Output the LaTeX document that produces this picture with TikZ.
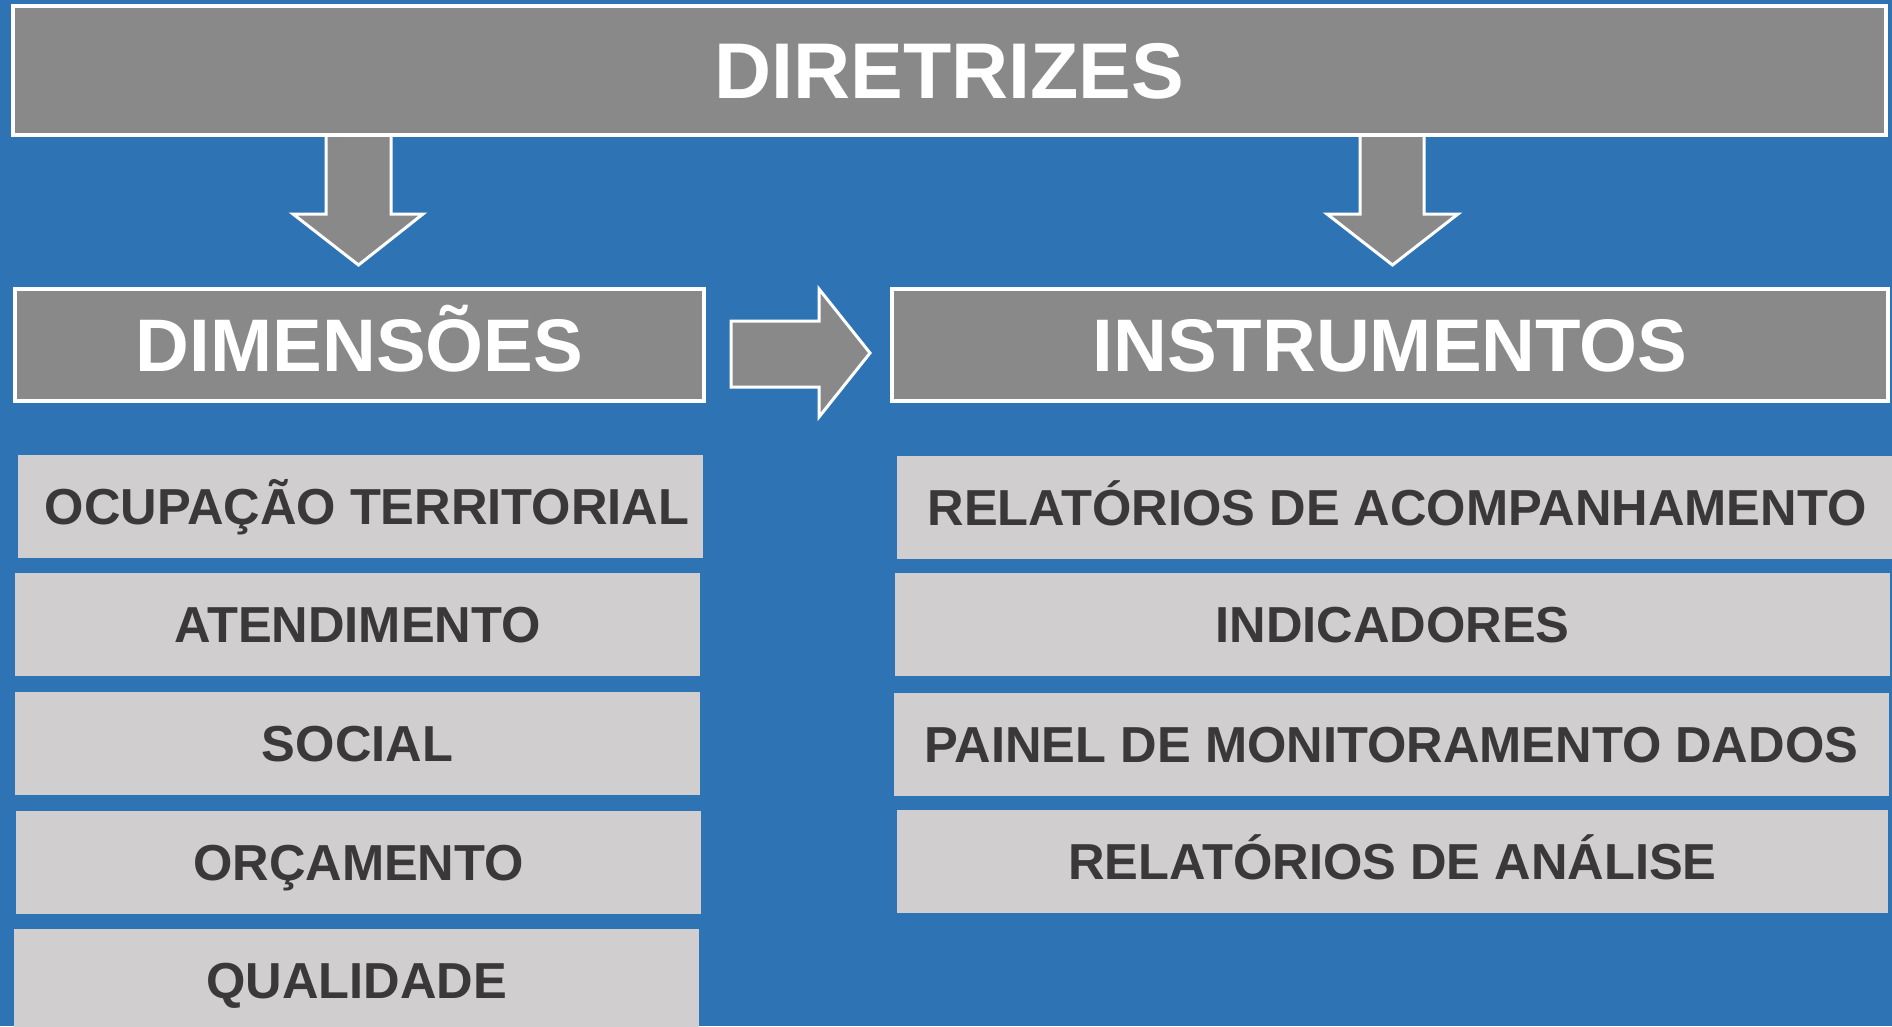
\documentclass[tikz,border=0pt]{standalone}
\usepackage{fontspec}
\setmainfont{Liberation Sans}
\definecolor{bgblue}{HTML}{2E74B5}
\definecolor{boxgray}{HTML}{898989}
\definecolor{lightbox}{HTML}{D0CECF}
\definecolor{darktext}{HTML}{3A3838}
\begin{document}
\begin{tikzpicture}[x=1pt,y=-1pt,
  hdr/.style={draw=white, line width=4pt, fill=boxgray, text=white, inner sep=0pt, text depth=0pt, anchor=center},
  bigfont/.style={font=\bfseries\fontsize{79}{90}\selectfont, text height=56.6pt},
  midfont/.style={font=\bfseries\fontsize{74.5}{86}\selectfont, text height=53.3pt},
  item/.style={fill=lightbox, draw=none, text=darktext, inner sep=0pt, text depth=0pt, anchor=center,
    font=\bfseries\fontsize{50.6}{60}\selectfont, text height=36.2pt, minimum height=103pt},
  blockarrow/.style={draw=white, line width=3pt, fill=boxgray, line join=miter}
]
\useasboundingbox (0,0) rectangle (1892,1026);
\fill[bgblue] (0,0) rectangle (1892,1026);

% block arrows (drawn first, tops hidden under header box)
\draw[blockarrow] (326,132) -- (326,214) -- (293,214) -- (358.5,265) -- (423,214) -- (391,214) -- (391,132) -- cycle;
\draw[blockarrow] (1360,132) -- (1360,214) -- (1327,214) -- (1392.5,265) -- (1458,214) -- (1424,214) -- (1424,132) -- cycle;
\draw[blockarrow] (731,321) -- (819,321) -- (819,289) -- (870,353) -- (819,417) -- (819,387) -- (731,387) -- cycle;

% header boxes
\node[hdr, bigfont, minimum width=1873pt, minimum height=129pt] (dir) at (949.5,70.5) {DIRETRIZES};
\node[hdr, midfont, minimum width=689pt, minimum height=112pt] (dim) at (359.5,345) {DIMENSÕES};
\node[hdr, midfont, minimum width=996pt, minimum height=112pt] (ins) at (1390,345) {INSTRUMENTOS};

% dimension items
\node[item, minimum width=685pt] (d1) at (360.5,506.5) {\hspace*{13pt}OCUPAÇÃO TERRITORIAL};
\node[item, minimum width=685pt] (d2) at (357.5,624) {ATENDIMENTO};
\node[item, minimum width=685pt] (d3) at (357.5,743.5) {SOCIAL};
\node[item, minimum width=685pt] (d4) at (358.5,862.5) {ORÇAMENTO};
\node[item, minimum width=685pt] (d5) at (356.5,980.5) {QUALIDADE};

% instrument items
\node[item, minimum width=1000pt] (i1) at (1397,507.5) {RELATÓRIOS DE ACOMPANHAMENTO};
\node[item, minimum width=995pt] (i2) at (1392.5,624) {INDICADORES};
\node[item, minimum width=995pt] (i3) at (1391.5,744.5) {PAINEL DE MONITORAMENTO DADOS};
\node[item, minimum width=991pt] (i4) at (1392.5,861.5) {RELATÓRIOS DE ANÁLISE};
\end{tikzpicture}
\end{document}
